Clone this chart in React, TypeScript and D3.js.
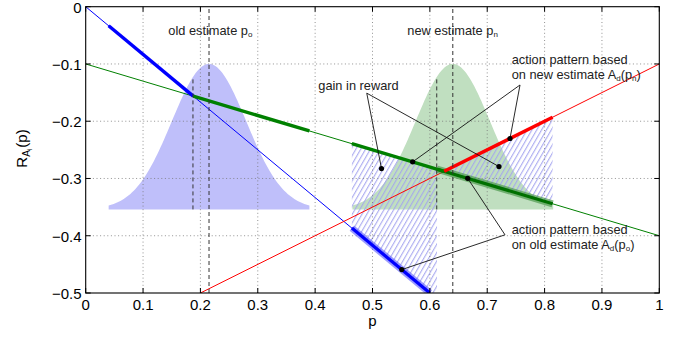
import React from 'react';
import * as d3 from 'd3';

// ---- data ----
const xTicks = [0, 0.1, 0.2, 0.3, 0.4, 0.5, 0.6, 0.7, 0.8, 0.9, 1];
const xTickLabels = ['0', '0.1', '0.2', '0.3', '0.4', '0.5', '0.6', '0.7', '0.8', '0.9', '1'];
const yTicks = [0, -0.1, -0.2, -0.3, -0.4, -0.5];
const yTickLabels = ['0', '\u22120.1', '\u22120.2', '\u22120.3', '\u22120.4', '\u22120.5'];

// reward lines R_Ai(p), given by end points [p, R]
const blueLine: [number, number][] = [[0, 0], [0.6, -0.5]];
const greenLine: [number, number][] = [[0, -0.1], [1, -0.4]];
const redLine: [number, number][] = [[0.2, -0.5], [1, -0.1]];

// belief distributions
const estimates = [0.215, 0.64]; // old p_o, new p_n
const switchPoints = [0.187, 0.612]; // dashed switch lines
const gaussBase = -0.354;
const gaussPeak = -0.1;
const gaussSigma = 0.0648;
const gaussHalfWidth = 0.175;

// thick segments [from, to]
const leftBlue = [0.04, 0.1875];
const leftGreen = [0.1875, 0.39];
const newGreen = [0.464, 0.625];
const newRed = [0.625, 0.814];
const oldBlue = [0.464, 0.6];
const oldGreen = [0.6125, 0.814];

// annotation anchors and target points [p, R]
const gainAnchor: [number, number] = [0.49, -0.151];
const gainDots: [number, number][] = [[0.5157, -0.2827], [0.7205, -0.2792]];
const newAnchor: [number, number] = [0.7572, -0.1367];
const newDotsP = [0.7397, 0.57]; // on red, on green
const oldAnchor: [number, number] = [0.731, -0.3984];
const oldDotsP = [0.666, 0.551]; // on green, on blue

const W = 677, H = 337;
const x = d3.scaleLinear().domain([0, 1]).range([85.7, 659.3]);
const y = d3.scaleLinear().domain([-0.5, 0]).range([293, 6.7]);

const lineAt = (l: [number, number][], p: number) =>
  l[0][1] + ((p - l[0][0]) * (l[1][1] - l[0][1])) / (l[1][0] - l[0][0]);

const gauss = (mu: number, p: number) =>
  gaussBase + (gaussPeak - gaussBase) * Math.exp(-((p - mu) ** 2) / (2 * gaussSigma ** 2));

const path = d3
  .line<[number, number]>()
  .x((d) => x(d[0]))
  .y((d) => y(d[1]));

const steps = (a: number, b: number, n = 80) => d3.range(n + 1).map((i) => a + ((b - a) * i) / n);

const gaussArea = (mu: number) => {
  const pts: [number, number][] = steps(mu - gaussHalfWidth, mu + gaussHalfWidth, 120).map((p) => [p, gauss(mu, p)]);
  pts.push([mu + gaussHalfWidth, gaussBase]);
  pts.unshift([mu - gaussHalfWidth, gaussBase]);
  return path(pts) + 'Z';
};

const seg = (l: [number, number][], r: number[]) => path([[r[0], lineAt(l, r[0])], [r[1], lineAt(l, r[1])]]) as string;

// hatched gain regions
const hatch1 = (() => {
  const a = oldBlue[0], b = oldGreen[0];
  const pts: [number, number][] = [[a, lineAt(greenLine, a)], [b, lineAt(greenLine, b)], [b, -0.5], [oldBlue[1], -0.5], [a, lineAt(blueLine, a)]];
  return path(pts) + 'Z';
})();
const hatch2 = (() => {
  const a = oldGreen[0], m = newRed[0], b = newRed[1];
  const pts: [number, number][] = [[a, lineAt(greenLine, a)], [m, lineAt(greenLine, m)], [b, lineAt(redLine, b)], [b, lineAt(greenLine, b)]];
  return path(pts) + 'Z';
})();

const FONT = '"Liberation Sans", Arial, Helvetica, sans-serif';
const TXT = '#222';

export default function App() {
  const [x0, x1] = x.range();
  const [y0, y1] = [y(-0.5), y(0)];
  const dot = (p: number, r: number, k: string) => <circle key={k} cx={x(p)} cy={y(r)} r={2.6} fill="#000" />;
  const conn = (a: [number, number], b: [number, number], k: string) => (
    <line key={k} x1={x(a[0])} y1={y(a[1])} x2={x(b[0])} y2={y(b[1])} stroke="#111" strokeWidth={0.9} />
  );
  const newDots: [number, number][] = [[newDotsP[0], lineAt(redLine, newDotsP[0])], [newDotsP[1], lineAt(greenLine, newDotsP[1])]];
  const oldDots: [number, number][] = [[oldDotsP[0], lineAt(greenLine, oldDotsP[0])], [oldDotsP[1], lineAt(blueLine, oldDotsP[1])]];
  return (
    <svg width={W} height={H} style={{ position: 'absolute', left: 0, top: 0, background: '#fff' }} fontFamily={FONT}>
      <defs>
        <pattern id="hatch" patternUnits="userSpaceOnUse" width={4.2} height={10} patternTransform="rotate(30)">
          <line x1={0.6} y1={0} x2={0.6} y2={10} stroke="#a3a3ef" strokeWidth={1} />
        </pattern>
        <clipPath id="ax">
          <rect x={x0} y={y1} width={x1 - x0} height={y0 - y1} />
        </clipPath>
      </defs>
      <g clipPath="url(#ax)">
        <path d={gaussArea(estimates[0])} fill="#bfbffa" />
        <path d={gaussArea(estimates[1])} fill="#c0dfc0" />
        <path d={hatch1} fill="url(#hatch)" />
        <path d={hatch2} fill="url(#hatch)" />
        {/* grid */}
        {xTicks.slice(1, -1).map((t) => (
          <line key={'gx' + t} x1={x(t)} x2={x(t)} y1={y0} y2={y1} stroke="#777" strokeWidth={0.8} strokeDasharray="1 2.6" />
        ))}
        {yTicks.slice(1, -1).map((t) => (
          <line key={'gy' + t} y1={y(t)} y2={y(t)} x1={x0} x2={x1} stroke="#777" strokeWidth={0.8} strokeDasharray="1 2.6" />
        ))}
        {/* thin lines */}
        <path d={path(blueLine) as string} stroke="#0000ff" strokeWidth={1} fill="none" />
        <path d={path(greenLine) as string} stroke="#008000" strokeWidth={1} fill="none" />
        <path d={path(redLine) as string} stroke="#ff0000" strokeWidth={1} fill="none" />
        {/* old pattern bands */}
        <path d={seg(blueLine, oldBlue)} stroke="#5a5aff" strokeWidth={7} strokeOpacity={0.6} fill="none" />
        <path d={seg(greenLine, oldGreen)} stroke="#3a8f3a" strokeWidth={7} strokeOpacity={0.6} fill="none" />
        <path d={seg(blueLine, oldBlue)} stroke="#0000ff" strokeWidth={3.2} fill="none" />
        <path d={seg(greenLine, oldGreen)} stroke="#007000" strokeWidth={3.2} fill="none" />
        {/* thick lines */}
        <path d={seg(blueLine, leftBlue)} stroke="#0000ff" strokeWidth={3.4} fill="none" />
        <path d={seg(greenLine, leftGreen)} stroke="#008000" strokeWidth={3.4} fill="none" />
        <path d={seg(greenLine, newGreen)} stroke="#008000" strokeWidth={3.4} fill="none" />
        <path d={seg(redLine, newRed)} stroke="#ff0000" strokeWidth={3.4} fill="none" />
        {/* dashed */}
        {estimates.map((m) => (
          <line key={'m' + m} x1={x(m)} x2={x(m)} y1={y0} y2={y1} stroke="#333" strokeWidth={1} strokeDasharray="4 3" />
        ))}
        {switchPoints.map((s, i) => (
          <line key={'s' + s} x1={x(s)} x2={x(s)} y1={y(gaussBase)} y2={y(gauss(estimates[i], s))} stroke="#333" strokeWidth={1} strokeDasharray="4 3" />
        ))}
        {/* annotations */}
        {gainDots.map((d, i) => conn(gainAnchor, d, 'gl' + i))}
        {newDots.map((d, i) => conn(newAnchor, d, 'nl' + i))}
        {oldDots.map((d, i) => conn(oldAnchor, d, 'ol' + i))}
        {gainDots.map((d, i) => dot(d[0], d[1], 'gd' + i))}
        {newDots.map((d, i) => dot(d[0], d[1], 'nd' + i))}
        {oldDots.map((d, i) => dot(d[0], d[1], 'od' + i))}
      </g>
      {/* texts */}
      <g fontSize={12.8} fill={TXT}>
        <text x={168.3} y={34.5}>
          old estimate p<tspan fontSize={8} dy={2}>o</tspan>
        </text>
        <text x={407.3} y={34.5}>
          new estimate p<tspan fontSize={8} dy={2}>n</tspan>
        </text>
        <text x={318.3} y={90}>gain in reward</text>
        <text x={511.7} y={64}>action pattern based</text>
        <text x={511.7} y={78.5}>
          on new estimate A<tspan fontSize={8} dy={2}>d</tspan>
          <tspan dy={-2}>(p</tspan>
          <tspan fontSize={8} dy={2}>n</tspan>
          <tspan dy={-2}>)</tspan>
        </text>
        <text x={511.7} y={234}>action pattern based</text>
        <text x={511.7} y={248.5}>
          on old estimate A<tspan fontSize={8} dy={2}>d</tspan>
          <tspan dy={-2}>(p</tspan>
          <tspan fontSize={8} dy={2}>o</tspan>
          <tspan dy={-2}>)</tspan>
        </text>
      </g>
      {/* axes box */}
      <rect x={x0} y={y1} width={x1 - x0} height={y0 - y1} fill="none" stroke="#000" strokeWidth={1.1} />
      {xTicks.map((t) => (
        <g key={'xt' + t}>
          <line x1={x(t)} x2={x(t)} y1={y0} y2={y0 - 5} stroke="#000" />
          <line x1={x(t)} x2={x(t)} y1={y1} y2={y1 + 5} stroke="#000" />
        </g>
      ))}
      {yTicks.map((t) => (
        <g key={'yt' + t}>
          <line x1={x0} x2={x0 + 5} y1={y(t)} y2={y(t)} stroke="#000" />
          <line x1={x1} x2={x1 - 5} y1={y(t)} y2={y(t)} stroke="#000" />
        </g>
      ))}
      <g fontSize={15} fill="#000">
        {xTicks.map((t, i) => (
          <text key={'xl' + t} x={x(t)} y={310} textAnchor="middle">
            {xTickLabels[i]}
          </text>
        ))}
        {yTicks.map((t, i) => (
          <text key={'yl' + t} x={81.5} y={y(t) + 6} textAnchor="end">
            {yTickLabels[i]}
          </text>
        ))}
        <text x={x(0.5)} y={325.5} textAnchor="middle">p</text>
        <text transform="translate(27,148.5) rotate(-90)" textAnchor="middle">
          R<tspan fontSize={10} dy={3}>A</tspan>
          <tspan fontSize={7} dy={2}>i</tspan>
          <tspan dy={-5} dx={1}>(p)</tspan>
        </text>
      </g>
    </svg>
  );
}
